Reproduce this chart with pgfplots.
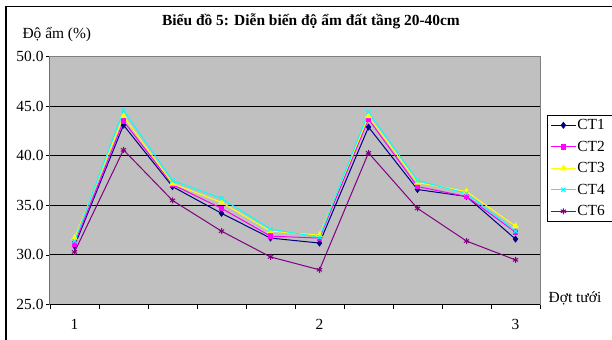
\documentclass[border=0pt]{standalone}
\usepackage{fontspec}
\setmainfont{Liberation Serif}
\usepackage{pgfplots}
\pgfplotsset{compat=1.18}
\definecolor{ct1}{HTML}{000080}
\definecolor{ct2}{HTML}{FF00FF}
\definecolor{ct3}{HTML}{FFFF00}
\definecolor{ct4}{HTML}{00FFFF}
\definecolor{ct6}{HTML}{800080}
\definecolor{plotgray}{HTML}{C0C0C0}
\newcommand{\lblfont}{\fontsize{15.5}{18}\selectfont}
\begin{document}
\begin{tikzpicture}
\path[use as bounding box] (0bp,0bp) rectangle (612bp,-340bp);
\fill[white] (0bp,0bp) rectangle (612bp,-340bp);
\begin{axis}[
  at={(50bp,-304.5bp)}, anchor=south west,
  scale only axis, width=490bp, height=247.8bp,
  xmin=0.5, xmax=10.5, ymin=25, ymax=50,
  axis background/.style={fill=plotgray},
  axis line style={draw=gray, line width=1bp},
  xtick={0.5,1.5,...,10.5}, xticklabels={},
  extra x ticks={1,6,10}, extra x tick labels={1,2,3},
  extra x tick style={major tick length=0pt, grid=none, xticklabel style={yshift=-11bp}},
  ytick={25,30,...,50},
  extra y ticks={30,35,40,45}, extra y tick labels={},
  extra y tick style={grid=major, major tick length=0pt},
  grid style={black, line width=1bp},
  xtick pos=bottom, ytick pos=left,
  tick align=outside, major tick length=4bp,
  tick style={black, line width=0.8bp},
  tick label style={font=\lblfont},
  yticklabel style={xshift=1bp, /pgf/number format/.cd, fixed, fixed zerofill, precision=1, assume math mode=true},
  legend style={at={(axis description cs:1.0143,0.7647)}, anchor=north west,
    draw=black, line width=0.8bp, fill=white, font=\lblfont,
    inner xsep=3bp, inner ysep=2bp, row sep=5.8bp,
    nodes={text width=33bp, align=left, inner xsep=1bp}},
  legend cell align=left,
  legend image code/.code={\draw[mark repeat=2, mark phase=2, #1] plot coordinates {(0bp,0bp) (12.5bp,0bp) (25bp,0bp)};},
]
\addplot[ct1, line width=1bp, mark=diamond*, mark size=2.8bp, mark options={fill=ct1}]
  coordinates {(1,30.9)(2,43.1)(3,36.9)(4,34.2)(5,31.7)(6,31.2)(7,42.9)(8,36.6)(9,35.9)(10,31.6)};
\addlegendentry{CT1}
\addplot[ct2, line width=1bp, mark=square*, mark size=2.3bp, mark options={fill=ct2}]
  coordinates {(1,31.1)(2,43.5)(3,37.1)(4,34.7)(5,31.9)(6,31.7)(7,43.7)(8,36.9)(9,35.9)(10,32.3)};
\addlegendentry{CT2}
\addplot[ct3, line width=1bp, mark=triangle*, mark size=3bp, mark options={fill=ct3}]
  coordinates {(1,31.7)(2,44.0)(3,37.2)(4,35.3)(5,32.4)(6,32.0)(7,44.0)(8,37.3)(9,36.4)(10,32.9)};
\addlegendentry{CT3}
\addplot[ct4, line width=1bp, mark=x, mark size=3bp]
  coordinates {(1,31.4)(2,44.6)(3,37.5)(4,35.7)(5,32.6)(6,31.8)(7,44.4)(8,37.5)(9,36.2)(10,32.4)};
\addlegendentry{CT4}
\addplot[ct6, line width=1bp, mark=asterisk, mark size=3bp]
  coordinates {(1,30.3)(2,40.6)(3,35.5)(4,32.4)(5,29.8)(6,28.5)(7,40.3)(8,34.7)(9,31.4)(10,29.5)};
\addlegendentry{CT6}
\draw[black, line width=1bp] (rel axis cs:0,1) -- (rel axis cs:0,0) -- (rel axis cs:1,0);
\end{axis}
\draw[black, line width=1.5bp] (6bp,-400bp) -- (6bp,-6.7bp) -- (700bp,-6.7bp);
\node[font=\bfseries\fontsize{15.5}{18}\selectfont] at (311bp,-21.7bp) {Biểu đồ 5: Diễn biến độ ẩm đất tầng 20-40cm};
\node[anchor=west, font=\lblfont] at (19bp,-35bp) {Độ ẩm (\%)};
\node[font=\lblfont] at (575bp,-298bp) {Đợt tưới};
\end{tikzpicture}
\end{document}
